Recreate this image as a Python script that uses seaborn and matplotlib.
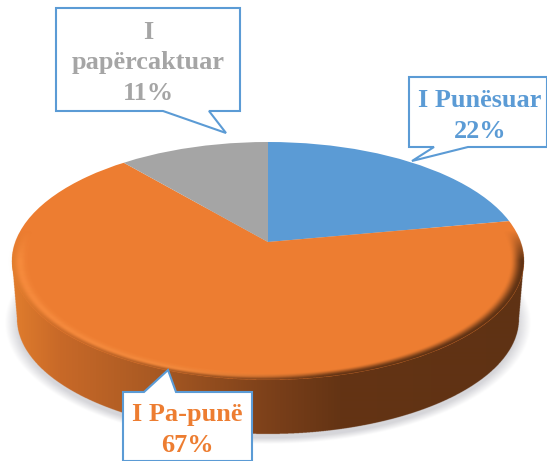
import numpy as np
import matplotlib
matplotlib.use('Agg')
import matplotlib.pyplot as plt
import seaborn as sns
from matplotlib.patches import Ellipse, Polygon
from matplotlib.transforms import Affine2D

categories = ['I Punësuar', 'I Pa-punë', 'I\npapërcaktuar']
values = [22, 67, 11]
colors = ['#5b9bd5', '#ed7d31', '#a5a5a5']
text_colors = ['#5b9bd5', '#ed7d31', '#a5a5a5']

sns.set_theme(style='white')
plt.rcParams['font.family'] = ['Liberation Serif', 'DejaVu Serif']

W, H = 547, 461
fig = plt.figure(figsize=(W / 100, H / 100), dpi=100)
ax = fig.add_axes([0, 0, 1, 1])

# pie is drawn in a squashed space, then clipped to the tilted top face
cx, cy, rx, ry = 268, 261, 256, 119
wedges, _ = ax.pie(values, colors=colors, startangle=90, counterclock=False, radius=400,
                   wedgeprops={'linewidth': 0, 'edgecolor': 'none'})
ax.set_aspect('auto')
ax.set_xlim(0, W)
ax.set_ylim(H, 0)
ax.axis('off')
squash = Affine2D().scale(2.2, -1).translate(268, 242) + ax.transData
for w in wedges:
    w.set_transform(squash)
    w.set_zorder(3)
    w.set_clip_on(True)
    w.set_clip_path(Ellipse((cx, cy), 2 * rx, 2 * ry, transform=ax.transData))

# pixel grid for shading layers (4x, downsampled by imshow)
ss = 4
xs = (np.arange(W * ss) + 0.5) / ss
ys = (np.arange(H * ss) + 0.5) / ss
X, Y = np.meshgrid(xs, ys)

# soft shadow under the disc
d_sh = np.sqrt(((X - 268) / 263) ** 2 + ((Y - 323) / 121) ** 2)
sh = np.zeros(X.shape + (4,))
sh[..., :3] = np.array([214, 214, 218]) / 255
sh[..., 3] = np.clip((1 - d_sh) / 0.05, 0, 1)
ax.imshow(sh, extent=(0, W, H, 0), zorder=1, aspect='auto', interpolation='antialiased')

# side wall, colour ramps left to right
ramp_x = [12, 60, 150, 280, 340, 523]
ramp_r = [225, 200, 170, 120, 100, 95]
ramp_g = [125, 105, 90, 62, 52, 50]
ramp_b = [45, 40, 35, 25, 20, 20]
side_rgb = np.dstack([np.interp(X, ramp_x, c) for c in (ramp_r, ramp_g, ramp_b)]) / 255

d_top = np.sqrt(((X - cx) / rx) ** 2 + ((Y - cy) / ry) ** 2)
rxb, ryb, yb = 251, 115, 319
inner = np.clip(1 - ((X - cx) / rxb) ** 2, 0, None)
y_low = yb + ryb * np.sqrt(inner)
# outer edge tapers a little between top face and bottom ellipse
half_w = rx - (rx - rxb) * np.clip((Y - cy) / (yb - cy), 0, 1)
wall = (Y > cy) & (np.abs(X - cx) < half_w) & (Y < y_low)

wall_img = np.dstack([side_rgb, wall.astype(float)])
ax.imshow(wall_img, extent=(0, W, H, 0), zorder=2, aspect='auto', interpolation='antialiased')

# bevel on the front rim of the top face
fade = np.clip((Y - (cy - 30)) / 30, 0, 1)
t = np.clip((d_top - 0.945) / 0.05, 0, 1)
bevel_a = t * t * (3 - 2 * t) * fade * (d_top < 1)
bevel = np.dstack([side_rgb, bevel_a])
ax.imshow(bevel, extent=(0, W, H, 0), zorder=4, aspect='auto', interpolation='antialiased')

# light strip on the left part of the rim
glow = np.exp(-((d_top - 0.968) / 0.02) ** 2) * np.clip((330 - X) / 150, 0, 1) * fade * 0.9
glow_img = np.zeros(X.shape + (4,))
glow_img[..., :3] = np.array([248, 140, 62]) / 255
glow_img[..., 3] = glow
ax.imshow(glow_img, extent=(0, W, H, 0), zorder=5, aspect='auto', interpolation='antialiased')

ax.set_xlim(0, W)
ax.set_ylim(H, 0)

# callout boxes, same order as categories
callouts = [
    [(409, 77), (547, 77), (547, 147), (468, 147), (412, 161), (434, 147), (409, 147)],
    [(123, 392), (144, 392), (168, 370), (176, 392), (252, 392), (252, 461), (123, 461)],
    [(56, 8), (240, 8), (240, 111), (209, 111), (226, 133), (163, 111), (56, 111)],
]
label_pos = [(480, 116), (187, 430), (148, 63)]

for pts, name, val, c, pos in zip(callouts, categories, values, text_colors, label_pos):
    ax.add_patch(Polygon(pts, closed=True, facecolor='white', edgecolor='#5b9bd5',
                         linewidth=1.5, zorder=6, clip_on=True))
    ax.text(pos[0], pos[1], f'{name}\n{val}%', color=c, fontsize=18.9, fontweight='bold',
            ha='center', va='center', multialignment='center', linespacing=1.4, zorder=7)

fig.savefig('out.png', dpi=100)
